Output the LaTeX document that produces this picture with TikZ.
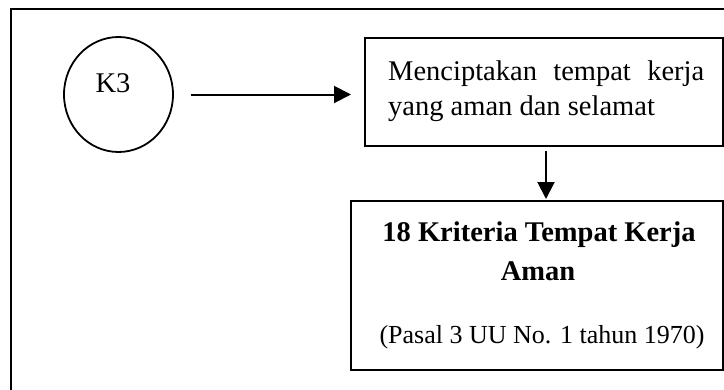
\documentclass[tikz,border=0pt]{standalone}
\usepackage{fontspec}
\setmainfont{Liberation Serif}
\usetikzlibrary{arrows.meta,shapes.geometric}
\begin{document}
\begin{tikzpicture}[x=1pt,y=-1pt,
  frame/.style={draw=black,line width=2pt},
  boxst/.style={draw=black,line width=2pt,rectangle,inner sep=0pt},
  txt/.style={inner sep=0pt,font=\fontsize{28.5}{34}\selectfont},
  small/.style={inner sep=0pt,font=\fontsize{26}{31}\selectfont},
  arr/.style={draw=black,line width=2pt,-{Triangle[length=17pt,width=17pt]}}]
\useasboundingbox (0,0) rectangle (724,389);
\clip (0,0) rectangle (724,389);
\fill[white] (0,0) rectangle (724,389);
% outer frame
\coordinate (fbl) at (11,400);
\coordinate (ftl) at (11,9);
\coordinate (ftr) at (740,9);
\draw[frame] (fbl) -- (ftl) -- (ftr);
% circle
\node[ellipse,draw=black,line width=1.8pt,minimum width=109pt,minimum height=115pt,inner sep=0pt] (k3) at (118.5,94.5) {};
\node[txt,anchor=base] (k3t) at (113,92.7) {K3};
% box 1
\node[boxst,minimum width=358pt,minimum height=108pt] (box1) at (544,92) {};
\node[txt,anchor=base west] (l1) at (388,80.5) {\makebox[316pt][s]{Menciptakan tempat kerja}};
\node[txt,anchor=base west] (l2) at (388,115) {yang aman dan selamat};
% box 2
\node[boxst,minimum width=372pt,minimum height=169pt] (box2) at (537,285.5) {};
\node[txt,anchor=base] (b1) at (539,241.7) {\bfseries 18 Kriteria Tempat Kerja};
\node[txt,anchor=base] (b2) at (538,280) {\bfseries Aman};
\node[small,anchor=base] (b3) at (542,343) {(Pasal 3 UU No. 1 tahun 1970)};
% arrows
\draw[arr,shorten <=17pt,shorten >=13pt] (k3.east) -- (k3.east -| box1.west);
\draw[arr,shorten <=4pt,shorten >=1pt] ([xshift=2pt]box1.south) -- ([xshift=2pt]box1.south |- box2.north);
\end{tikzpicture}
\end{document}
